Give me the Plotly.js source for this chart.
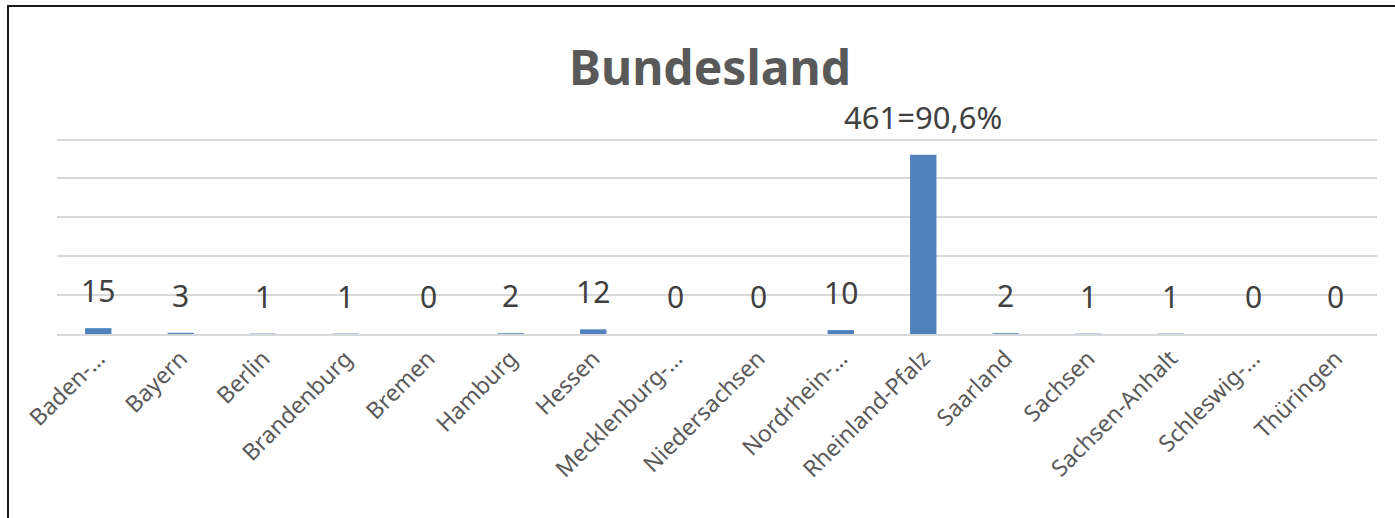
<!DOCTYPE html>
<html>
<head>
<meta charset="utf-8">
<script src="https://cdn.plot.ly/plotly-3.0.1.min.js"></script>
<style>
  html, body { margin: 0; padding: 0; background: #fff; }
  #wrap { position: relative; width: 1395px; height: 518px; overflow: hidden; }
  #chart { width: 1395px; height: 518px; }
  #frame { position: absolute; left: 7px; top: 5px; width: 1400px; height: 600px;
           border-top: 2px solid #1a1a1a; border-left: 2px solid #1a1a1a; pointer-events: none; }
</style>
</head>
<body>
<div id="wrap">
  <div id="chart"></div>
  <div id="frame"></div>
</div>
<script>
const categories = ["Baden-…", "Bayern", "Berlin", "Brandenburg", "Bremen", "Hamburg", "Hessen",
  "Mecklenburg-…", "Niedersachsen", "Nordrhein-…", "Rheinland-Pfalz", "Saarland", "Sachsen",
  "Sachsen-Anhalt", "Schleswig-…", "Thüringen"];
const counts = [15, 3, 1, 1, 0, 2, 12, 0, 0, 10, 461, 2, 1, 1, 0, 0];
const yTicks = [0, 100, 200, 300, 400, 500];

const total = counts.reduce((a, b) => a + b, 0);
const maxVal = Math.max(...counts);
const labels = counts.map(v => v === maxVal
  ? v + "=" + (v / total * 100).toFixed(1).replace(".", ",") + "%"
  : String(v));

const annotations = categories.map((c, i) => ({
  x: c, y: counts[i], xref: "x", yref: "y",
  text: labels[i], showarrow: false,
  yanchor: "bottom", yshift: 15,
  font: { family: "Noto Sans, sans-serif", size: counts[i] === maxVal ? 31 : 30, color: "#404040" }
}));

const trace = {
  type: "bar",
  x: categories,
  y: counts,
  marker: { color: "#4F81BD" },
  hoverinfo: "x+y"
};

const layout = {
  width: 1395, height: 518,
  margin: { l: 57, r: 18, t: 138, b: 184 },
  paper_bgcolor: "#ffffff", plot_bgcolor: "#ffffff",
  showlegend: false,
  bargap: 0.68,
  title: {
    text: "<b>Bundesland</b>",
    x: 0.509, xref: "container", xanchor: "center",
    y: 1 - 68 / 518, yref: "container", yanchor: "middle",
    font: { family: "Noto Sans, sans-serif", size: 48, color: "#595959" }
  },
  xaxis: {
    type: "category",
    tickangle: -45,
    tickfont: { family: "Noto Sans, sans-serif", size: 23, color: "#595959" },
    showline: true, linecolor: "#D9D9D9", linewidth: 2,
    ticks: "", showgrid: false, zeroline: false
  },
  yaxis: {
    range: [0, 504],
    tickvals: yTicks,
    showticklabels: false,
    showgrid: true, gridcolor: "#D9D9D9", gridwidth: 2,
    zeroline: false, ticks: "", fixedrange: true
  },
  annotations: annotations
};

Plotly.newPlot("chart", [trace], layout, { displayModeBar: false, staticPlot: true });
</script>
</body>
</html>
